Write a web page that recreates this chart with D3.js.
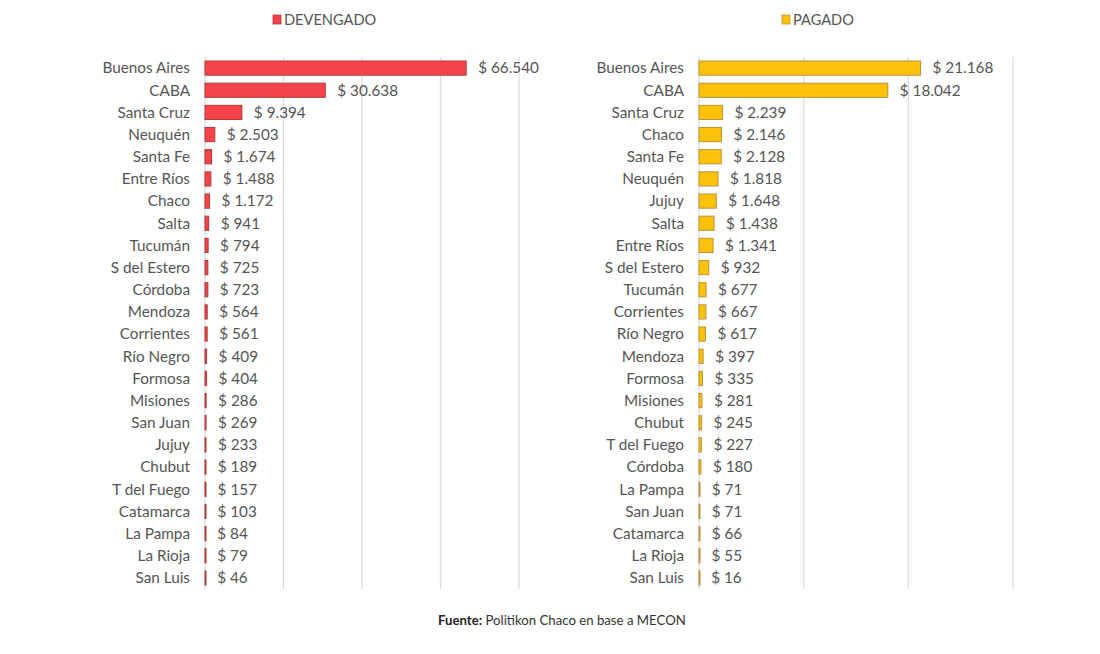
<!DOCTYPE html>
<html><head><meta charset="utf-8">
<script src="https://cdn.jsdelivr.net/npm/d3@7"></script>
<style>
body{margin:0;background:#fff;}
text{font-family:Lato,"Open Sans",sans-serif;}
</style></head>
<body><svg id="c" width="1100" height="654"></svg>
<script>
const devCategories = ["Buenos Aires","CABA","Santa Cruz","Neuquén","Santa Fe","Entre Ríos","Chaco","Salta","Tucumán","S del Estero","Córdoba","Mendoza","Corrientes","Río Negro","Formosa","Misiones","San Juan","Jujuy","Chubut","T del Fuego","Catamarca","La Pampa","La Rioja","San Luis"];
const devValues = [66540,30638,9394,2503,1674,1488,1172,941,794,725,723,564,561,409,404,286,269,233,189,157,103,84,79,46];
const pagCategories = ["Buenos Aires","CABA","Santa Cruz","Chaco","Santa Fe","Neuquén","Jujuy","Salta","Entre Ríos","S del Estero","Tucumán","Corrientes","Río Negro","Mendoza","Formosa","Misiones","Chubut","T del Fuego","Córdoba","La Pampa","San Juan","Catamarca","La Rioja","San Luis"];
const pagValues = [21168,18042,2239,2146,2128,1818,1648,1438,1341,932,677,667,617,397,335,281,245,227,180,71,71,66,55,16];
const devTicks = [0,20000,40000,60000,80000];
const pagTicks = [0,10000,20000,30000];
const seriesNames = ["DEVENGADO","PAGADO"];
const sourceBold = "Fuente:";
const sourceText = " Politikon Chaco en base a MECON";

const loc = d3.formatLocale({decimal:",",thousands:".",grouping:[3],currency:["$ ",""]});
const fmt = v => "$ " + loc.format(",")(v);
const svg = d3.select("#c");

function panel(cats, vals, ticks, x0, x1, fill, stroke, name, legendX){
  const x = d3.scaleLinear().domain([0, ticks[ticks.length-1]]).range([x0, x1]);
  const y = d3.scaleBand().domain(cats).range([57, 589]).paddingInner(0.36).paddingOuter(0.18);
  const g = svg.append("g");
  g.selectAll("line.grid").data(ticks).join("line")
    .attr("x1", d=>x(d)).attr("x2", d=>x(d)).attr("y1", 57).attr("y2", 589)
    .attr("stroke", "#dcdcdc").attr("stroke-width", 1.3);
  g.selectAll("rect.bar").data(vals).join("rect")
    .attr("x", x(0)).attr("y", (d,i)=>y(cats[i]))
    .attr("width", d=>Math.max(1, x(d)-x(0))).attr("height", y.bandwidth())
    .attr("fill", fill).attr("stroke", stroke).attr("stroke-width", 1);
  g.selectAll("text.cat").data(cats).join("text")
    .attr("x", x0-15).attr("y", d=>y(d)+y.bandwidth()/2).attr("dy","0.35em")
    .attr("text-anchor","end").attr("font-size", 15.3).attr("fill","#555").text(d=>d);
  g.selectAll("text.val").data(vals).join("text")
    .attr("x", d=>x(d)+12).attr("y", (d,i)=>y(cats[i])+y.bandwidth()/2).attr("dy","0.35em")
    .attr("font-size", 15.3).attr("fill","#555").text(d=>fmt(d));
  svg.append("rect").attr("x", legendX).attr("y", 15).attr("width", 8).attr("height", 9)
    .attr("fill", fill).attr("stroke", stroke).attr("stroke-width", 0.8);
  svg.append("text").attr("x", legendX+11).attr("y", 20).attr("dy","0.35em")
    .attr("font-size", 14.6).attr("fill","#555").text(name);
}
panel(devCategories, devValues, devTicks, 205, 519, "#f4444a", "#b03a3a", seriesNames[0], 273);
panel(pagCategories, pagValues, pagTicks, 699, 1013, "#fcc20a", "#b8953a", seriesNames[1], 782);

const ft = svg.append("text").attr("x", 438).attr("y", 620).attr("dy","0.35em")
  .attr("font-size", 13.2).attr("fill","#333");
ft.append("tspan").attr("font-weight","bold").attr("fill","#222").text(sourceBold);
ft.append("tspan").text(sourceText);
</script></body></html>
